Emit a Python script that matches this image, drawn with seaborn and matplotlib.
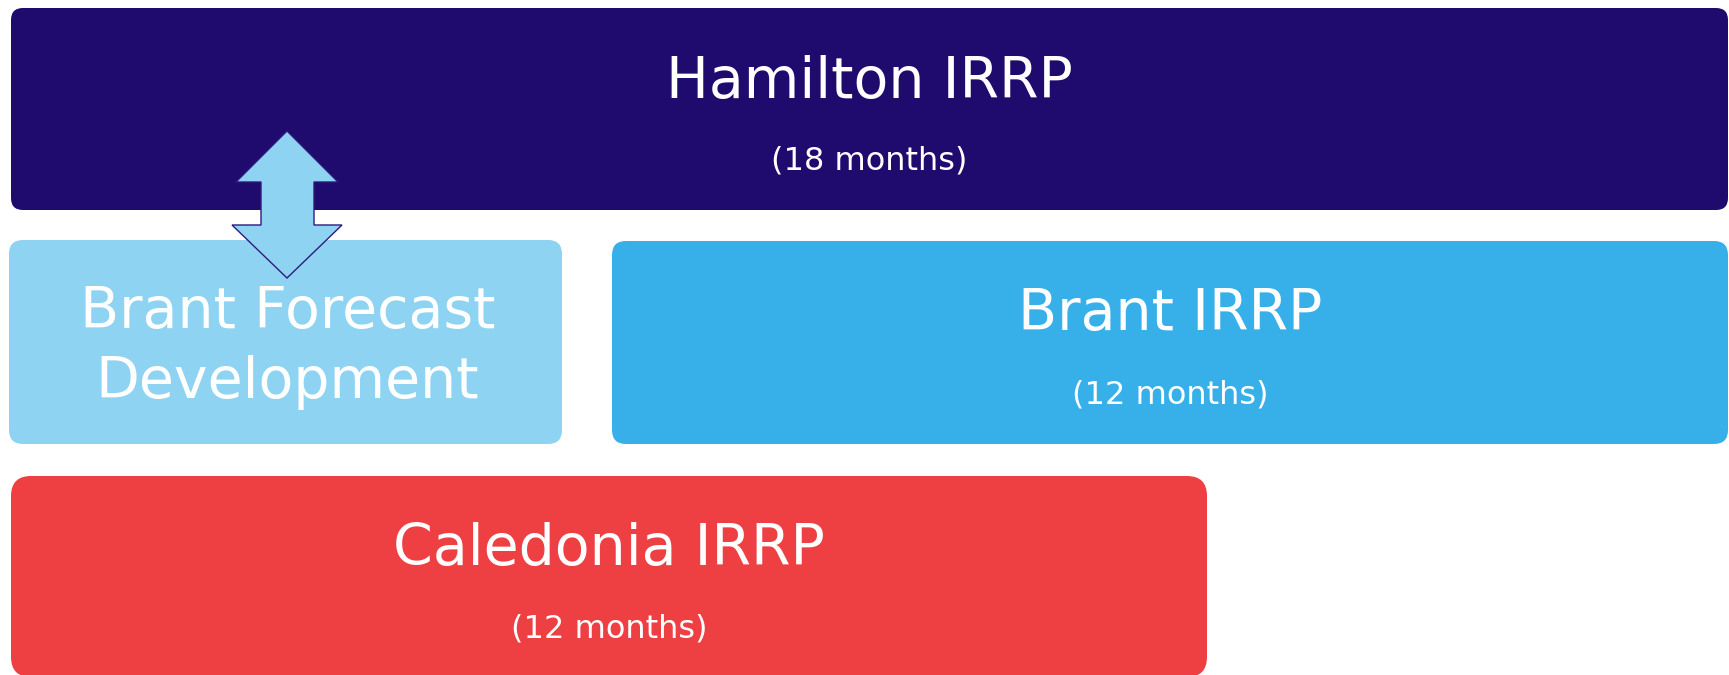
import matplotlib
matplotlib.use("Agg")
import matplotlib.pyplot as plt
from matplotlib.patches import FancyBboxPatch, Polygon
import seaborn as sns

# ---- content ----
box_titles = ["Hamilton IRRP", "Brant Forecast\nDevelopment", "Brant IRRP", "Caledonia IRRP"]
box_subtitles = ["(18 months)", "", "(12 months)", "(12 months)"]
box_colors = ["#1F0A6D", "#8ED3F2", "#37B0EA", "#EE3F43"]

# ---- layout (pixel coordinates: x0, y0, x1, y1) ----
box_extents = [(11, 8, 1728, 210), (9, 240, 562, 444), (612, 241, 1728, 444), (11, 476, 1207, 677)]
box_radius = [12, 14, 14, 20]
title_baselines = [98, 328, 330, 565]
sub_baselines = [169, None, 403, 638]
line_gap = 70

sns.set_theme(style="white")
plt.rcParams["font.family"] = ["DejaVu Sans"]

W, H = 1729, 675
fig = plt.figure(figsize=(W / 100, H / 100), dpi=100)
ax = fig.add_axes([0, 0, 1, 1])
ax.set_xlim(0, W)
ax.set_ylim(H, 0)
ax.axis("off")

for i, (title, sub, col) in enumerate(zip(box_titles, box_subtitles, box_colors)):
    x0, y0, x1, y1 = box_extents[i]
    r = box_radius[i]
    ax.add_patch(FancyBboxPatch((x0, y0), x1 - x0, y1 - y0,
                                boxstyle=f"round,pad=0,rounding_size={r}",
                                facecolor=col, edgecolor="none", zorder=1))
    cx = (x0 + x1) / 2
    for k, line in enumerate(title.split("\n")):
        ax.text(cx + (2 if not sub else 0), title_baselines[i] + k * line_gap, line,
                color="white", fontsize=41, ha="center", va="baseline", zorder=3)
    if sub:
        ax.text(cx, sub_baselines[i], sub, color="white", fontsize=23,
                ha="center", va="baseline", zorder=3)

# double-headed arrow between Hamilton and Brant forecast
arrow_pts = [(287, 131), (338, 182), (314, 182), (314, 225), (342, 225),
             (287, 278), (232, 225), (261, 225), (261, 182), (236, 182)]
ax.add_patch(Polygon(arrow_pts, closed=True, facecolor="#8ED3F2",
                     edgecolor="#2E1A7E", linewidth=1.0, zorder=2))

fig.savefig("out.png", dpi=100, facecolor="white")
